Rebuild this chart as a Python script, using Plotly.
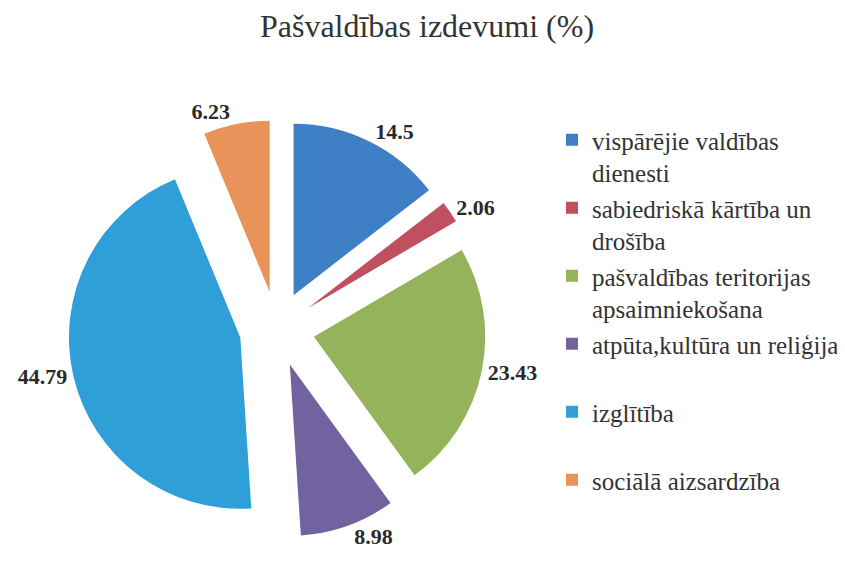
import plotly.graph_objects as go

categories = [
    "vispārējie valdības<br>dienesti",
    "sabiedriskā kārtība un<br>drošība",
    "pašvaldības teritorijas<br>apsaimniekošana",
    "atpūta,kultūra un reliģija<br> ",
    "izglītība<br> ",
    "sociālā aizsardzība<br> ",
]
values = [14.5, 2.06, 23.43, 8.98, 44.79, 6.23]
colors = ["#3f7fc6", "#c05060", "#94b35a", "#7262a0", "#2f9fd8", "#e8935a"]
title_text = "Pašvaldības izdevumi (%)"

W, H = 845, 564
SERIF = "Liberation Serif, Times New Roman, Times, serif"

fig = go.Figure(
    go.Pie(
        labels=categories,
        values=values,
        sort=False,
        direction="clockwise",
        rotation=0,
        pull=[0.22] * len(values),
        marker=dict(colors=colors, line=dict(width=0)),
        texttemplate="<b>%{value}</b>",
        textposition="outside",
        outsidetextfont=dict(family=SERIF, size=22, color="#2a2a2a"),
        domain=dict(x=[60 / W, 478 / W], y=[34 / H, 452 / H]),
        hoverinfo="label+value",
    )
)

fig.update_layout(
    width=W,
    height=H,
    margin=dict(l=0, r=0, t=0, b=0, autoexpand=False),
    paper_bgcolor="white",
    plot_bgcolor="white",
    font=dict(family=SERIF),
    title=dict(
        text=title_text,
        x=419 / W,
        xanchor="center",
        y=1 - 18 / H,
        yanchor="middle",
        font=dict(family=SERIF, size=32, color="#333333"),
    ),
    legend=dict(
        x=544 / W,
        y=1 - 109 / H,
        xanchor="left",
        yanchor="top",
        valign="top",
        font=dict(family=SERIF, size=25, color="#333333"),
        bgcolor="rgba(0,0,0,0)",
    ),
    showlegend=True,
)

fig.write_html("out.html")
